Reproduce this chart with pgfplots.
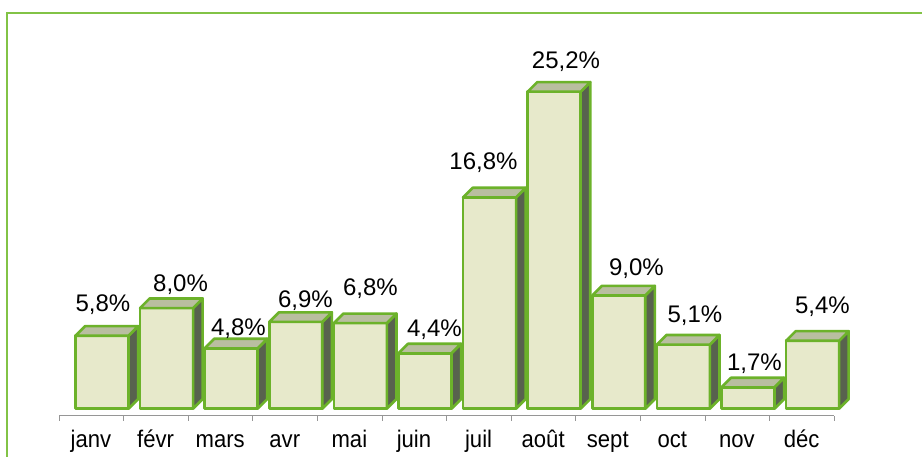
\documentclass[border=0pt]{standalone}
\usepackage{pgfplots}
\pgfplotsset{compat=1.18}
\usepackage{fontspec}
\setmainfont{Liberation Sans}
\definecolor{frontcol}{RGB}{231,233,203}
\definecolor{topcol}{RGB}{185,190,160}
\definecolor{sidecol}{RGB}{88,98,78}
\definecolor{edgecol}{RGB}{108,178,42}
\definecolor{framecol}{RGB}{130,195,70}
\definecolor{axiscol}{RGB}{150,150,150}
\begin{document}
\begin{tikzpicture}
\useasboundingbox (0,0) rectangle (461pt,228pt);
\draw[framecol, line width=1pt] (3.5pt,-5pt) -- (3.5pt,221.5pt) -- (470pt,221.5pt);
\begin{axis}[
  at={(29.5pt,20.15pt)}, anchor=south west,
  x=32.3pt, y=6.29pt,
  xmin=-0.665, xmax=11.335, ymin=-0.556, ymax=28,
  axis x line*=bottom, axis y line=none,
  clip=false,
  ytick=\empty,
  xtick={-0.665,0.335,1.335,2.335,3.335,4.335,5.335,6.335,7.335,8.335,9.335,10.335,11.335},
  xticklabels={},
  extra x ticks={-0.17,0.83,1.83,2.83,3.83,4.83,5.83,6.83,7.83,8.83,9.83,10.83},
  extra x tick labels={janv,févr,mars,avr,mai,juin,juil,août,sept,oct,nov,déc},
  extra x tick style={major tick length=0pt, grid=none,
     xticklabel style={anchor=base, yshift=-16pt, xscale=0.92, font=\fontsize{12}{14}\selectfont}},
  tick align=outside,
  major tick length=2.5pt,
  tick style={axiscol, line width=0.5pt},
  axis line style={axiscol, line width=0.6pt},
]
% side and top faces of the cuboids
\addplot[scatter, only marks, mark=*, mark size=0pt,
  mark options={draw=none, fill=none},
  visualization depends on={rawy \as \ry},
  scatter/@pre marker code/.code={%
    \pgfmathsetlengthmacro\hh{\ry*6.29pt}%
    \filldraw[fill=sidecol, draw=edgecol, line width=1.3pt, line join=round]
      (13.25pt,0pt) -- ++(4.8pt,4.8pt) -- ++(0pt,-\hh) -- ++(-4.8pt,-4.8pt) -- cycle;
    \filldraw[fill=topcol, draw=edgecol, line width=1.3pt, line join=round]
      (-13.25pt,0pt) -- ++(4.8pt,4.8pt) -- ++(26.5pt,0pt) -- ++(-4.8pt,-4.8pt) -- cycle;
  },
  scatter/@post marker code/.code={},
] table[x=x, y=y] {
x y
0 5.8
1 8.0
2 4.8
3 6.9
4 6.8
5 4.4
6 16.8
7 25.2
8 9.0
9 5.1
10 1.7
11 5.4
};
% front faces and labels
\addplot[ybar, bar shift=0pt, bar width=26.5pt,
  fill=frontcol, draw=edgecol, line width=1.3pt, line join=round,
  point meta=explicit symbolic,
  visualization depends on={\thisrow{dx} \as \dx},
  visualization depends on={\thisrow{dy} \as \dy},
  nodes near coords,
  every node near coord/.append style={anchor=base, xshift=\dx pt, yshift=\dy pt,
     text=black, font=\fontsize{12}{14}\selectfont, inner sep=0pt},
] table[x=x, y=y, meta=lab] {
x y lab dx dy
0 5.8 5,8\% 0.5 12.15
1 8.0 8,0\% 7 8.35
2 4.8 4,8\% 3.65 6.3
3 6.9 6,9\% 4.85 7.25
4 6.8 6,8\% 5.05 13.75
5 4.4 4,4\% 4.75 8.3
6 16.8 16,8\% -3.05 13.7
7 25.2 25,2\% 5.9 11.5
8 9.0 9,0\% 8.85 9.9
9 5.1 5,1\% 5.8 11.05
10 1.7 1,7\% 3.25 8.65
11 5.4 5,4\% 4.95 13.7
};
\end{axis}
\end{tikzpicture}
\end{document}
